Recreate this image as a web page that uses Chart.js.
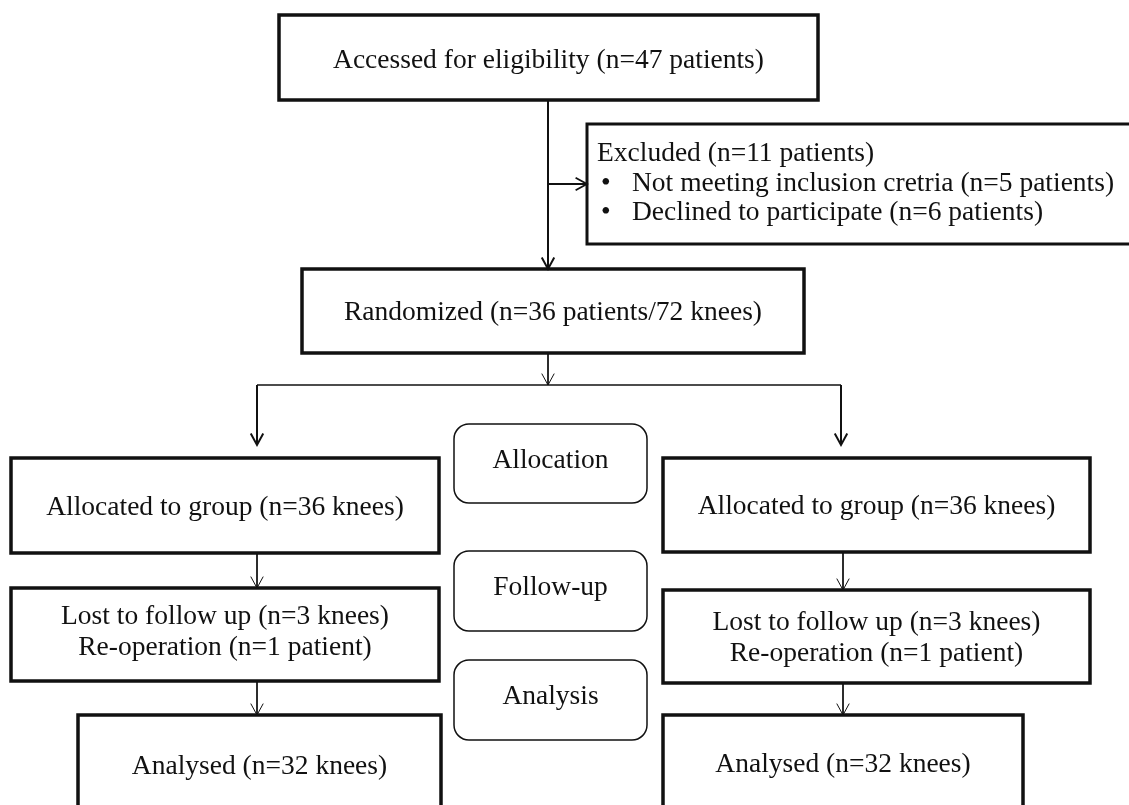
<!DOCTYPE html>
<html>
<head>
<meta charset="utf-8">
<script src="https://cdn.jsdelivr.net/npm/chart.js@4.4.0/dist/chart.umd.min.js"></script>
<style>
  html, body { margin: 0; padding: 0; background: #fff; }
  canvas { display: block; }
</style>
</head>
<body>
<canvas id="flowCanvas" width="1129" height="805"></canvas>
<script>
// Counts
const assessedPatients = 47;
const excludedReasons = ["Not meeting inclusion cretria", "Declined to participate"];
const excludedCounts = [5, 6];
const randomizedPatients = 36;
const randomizedKnees = 72;
const allocatedKnees = [36, 36];      // left group, right group
const lostKnees = [3, 3];
const reoperatedPatients = [1, 1];
const analysedKnees = [32, 32];
const phaseLabels = ["Allocation", "Follow-up", "Analysis"];

const excludedTotal = excludedCounts.reduce((a, b) => a + b, 0);

// Layout of the boxes, in page units: [left, top, right, bottom]
const mainBoxes = [
  { rect: [279, 15, 818, 100], lines: [`Accessed for eligibility (n=${assessedPatients} patients)`], textY: 61 },
  { rect: [302, 269, 804, 353], lines: [`Randomized (n=${randomizedPatients} patients/${randomizedKnees} knees)`] },
  { rect: [11, 458, 439, 553], lines: [`Allocated to group (n=${allocatedKnees[0]} knees)`] },
  { rect: [663, 458, 1090, 552], lines: [`Allocated to group (n=${allocatedKnees[1]} knees)`], textY: 507 },
  { rect: [11, 588, 439, 681], lines: [`Lost to follow up (n=${lostKnees[0]} knees)`, `Re-operation (n=${reoperatedPatients[0]} patient)`], textY: 632 },
  { rect: [663, 590, 1090, 683], lines: [`Lost to follow up (n=${lostKnees[1]} knees)`, `Re-operation (n=${reoperatedPatients[1]} patient)`] },
  { rect: [78, 715, 441, 812], lines: [`Analysed (n=${analysedKnees[0]} knees)`], textY: 767 },
  { rect: [663, 715, 1023, 812], lines: [`Analysed (n=${analysedKnees[1]} knees)`], textY: 765 }
];
const excludedBox = [587, 124, 1140, 244];
const phaseBoxes = [[454, 424, 647, 503], [454, 551, 647, 631], [454, 660, 647, 740]];

// Connectors: from, to, line width, arrowhead at the end
const connectors = [
  { from: [548, 100], to: [548, 269], width: 2, arrow: true },
  { from: [548, 184], to: [587, 184], width: 1.8, arrow: true },
  { from: [548, 353], to: [548, 385], width: 1, arrow: true },
  { from: [257, 385], to: [841, 385], width: 1.5, arrow: false },
  { from: [257, 385], to: [257, 445], width: 2, arrow: true },
  { from: [841, 385], to: [841, 445], width: 2, arrow: true },
  { from: [257, 553], to: [257, 588], width: 1, arrow: true },
  { from: [843, 552], to: [843, 590], width: 1, arrow: true },
  { from: [257, 681], to: [257, 715], width: 1, arrow: true },
  { from: [843, 683], to: [843, 715], width: 1, arrow: true }
];

const FONT = '27.5px "Liberation Serif", "Times New Roman", serif';

const flowPlugin = {
  id: 'flowBoxes',
  beforeDraw(chart) {
    const ctx = chart.ctx;
    ctx.save();
    ctx.fillStyle = '#fff';
    ctx.fillRect(0, 0, chart.width, chart.height);
    ctx.restore();
  },
  afterDatasetsDraw(chart) {
    const { ctx } = chart;
    const xs = chart.scales.x, ys = chart.scales.y;
    const px = v => xs.getPixelForValue(v);
    const py = v => ys.getPixelForValue(v);

    ctx.save();
    ctx.strokeStyle = '#111';
    ctx.fillStyle = '#111';
    ctx.font = FONT;

    // arrowheads
    connectors.filter(c => c.arrow).forEach(c => {
      const x1 = px(c.from[0]), y1 = py(c.from[1]);
      const x2 = px(c.to[0]), y2 = py(c.to[1]);
      const ang = Math.atan2(y2 - y1, x2 - x1);
      const len = 13, spread = 0.5;
      ctx.lineWidth = c.width;
      ctx.beginPath();
      ctx.moveTo(x2 - len * Math.cos(ang - spread), y2 - len * Math.sin(ang - spread));
      ctx.lineTo(x2, y2);
      ctx.lineTo(x2 - len * Math.cos(ang + spread), y2 - len * Math.sin(ang + spread));
      ctx.stroke();
    });

    // main boxes with centred text
    ctx.textAlign = 'center';
    ctx.textBaseline = 'middle';
    mainBoxes.forEach(b => {
      const [l, t, r, btm] = b.rect;
      ctx.lineWidth = 3.5;
      ctx.strokeRect(px(l), py(t), px(r) - px(l), py(btm) - py(t));
      const cx = px((l + r) / 2);
      const cy = b.textY !== undefined ? py(b.textY) : py((t + btm) / 2) + 2;
      const gap = 31;
      b.lines.forEach((s, i) => {
        ctx.fillText(s, cx, cy + (i - (b.lines.length - 1) / 2) * gap);
      });
    });

    // exclusion box with bullet list
    const [el, et, er, eb] = excludedBox;
    ctx.lineWidth = 3;
    ctx.strokeRect(px(el), py(et), px(er) - px(el), py(eb) - py(et));
    ctx.textAlign = 'left';
    ctx.fillText(`Excluded (n=${excludedTotal} patients)`, px(597), py(154));
    excludedReasons.forEach((reason, i) => {
      const rowY = py(184 + i * 29);
      ctx.fillText('\u2022', px(601), rowY);
      ctx.fillText(`${reason} (n=${excludedCounts[i]} patients)`, px(632), rowY);
    });

    // phase labels in rounded boxes
    ctx.textAlign = 'center';
    ctx.lineWidth = 1.5;
    phaseBoxes.forEach((rc, i) => {
      const [l, t, r, btm] = rc;
      ctx.beginPath();
      ctx.roundRect(px(l), py(t), px(r) - px(l), py(btm) - py(t), 15);
      ctx.stroke();
      ctx.fillText(phaseLabels[i], px((l + r) / 2), py((t + btm) / 2) - 3);
    });
    ctx.restore();
  }
};

const flowChart = new Chart(document.getElementById('flowCanvas').getContext('2d'), {
  type: 'scatter',
  data: {
    datasets: connectors.map(c => ({
      data: [{ x: c.from[0], y: c.from[1] }, { x: c.to[0], y: c.to[1] }],
      showLine: true,
      borderColor: '#111',
      borderWidth: c.width,
      pointRadius: 0,
      fill: false
    }))
  },
  options: {
    responsive: false,
    animation: false,
    devicePixelRatio: 1,
    layout: { padding: 0 },
    plugins: { legend: { display: false }, tooltip: { enabled: false } },
    scales: {
      x: { type: 'linear', min: 0, max: 1129, display: false },
      y: { type: 'linear', min: 0, max: 805, reverse: true, display: false }
    }
  },
  plugins: [flowPlugin]
});
</script>
</body>
</html>
